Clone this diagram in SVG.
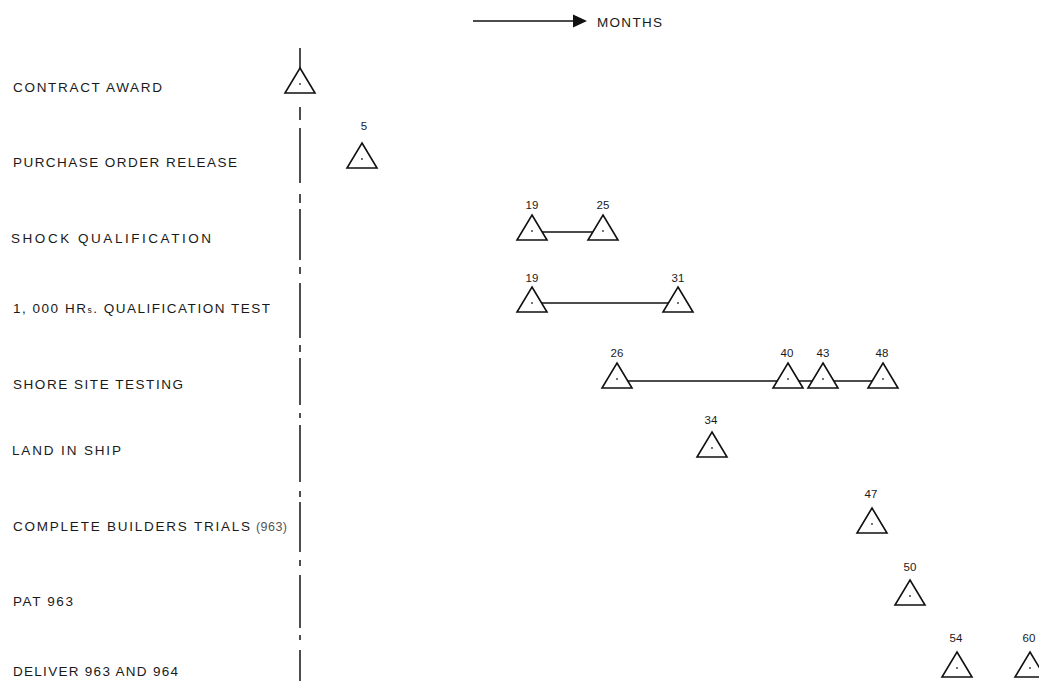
<svg xmlns="http://www.w3.org/2000/svg" xmlns:xlink="http://www.w3.org/1999/xlink" width="1039" height="681" viewBox="0 0 1039 681">
<style>
.lbl{font-family:"Liberation Sans","DejaVu Sans",sans-serif;font-size:13.5px;fill:#1a1a1a;}
.num{font-family:"Liberation Sans","DejaVu Sans",sans-serif;font-size:11.5px;fill:#1a1a1a;text-anchor:middle;}
.alt{font-family:"Liberation Sans","DejaVu Sans",sans-serif;font-size:12.5px;fill:#555;}
.tri{fill:none;stroke:#111;stroke-width:1.6;stroke-linejoin:miter;}
.conn{stroke:#111;stroke-width:1.5;fill:none;}
.axis{stroke:#222;stroke-width:1.6;fill:none;}
</style>
<defs>
<g id="tri">
<path class="tri" d="M0,0 L15,25 L-15,25 Z"/>
<circle cx="0" cy="16" r="0.9" fill="#333"/>
</g>
</defs>
<rect width="1039" height="681" fill="#fff"/>

<g id="legend">
<line x1="473" y1="21" x2="576" y2="21" class="conn"/>
<polygon points="573,14.5 587,21 573,27.5" fill="#111"/>
<text x="597" y="26.5" class="lbl" font-size="12.5" textLength="65">MONTHS</text>
</g>

<g id="axis">
<path class="axis" d="M300,48 V68 M300,107 V120 M300,128 V183 M300,194 V203 M300,209 V260 M300,267 V274 M300,283 V338 M300,345 V352 M300,358 V405 M300,413 V418 M300,425 V482 M300,491 V497 M300,502 V552 M300,560 V566 M300,575 V628 M300,635 V640 M300,650 V681"/>
</g>

<g id="labels">
<text x="13" y="92" class="lbl" textLength="149">CONTRACT AWARD</text>
<text x="13" y="167" class="lbl" textLength="224">PURCHASE ORDER RELEASE</text>
<text x="11" y="243" class="lbl" textLength="200">SHOCK QUALIFICATION</text>
<text x="13" y="313" class="lbl" textLength="257">1, 000 HR<tspan font-size="8.5">s</tspan>. QUALIFICATION TEST</text>
<text x="13" y="389" class="lbl" textLength="170">SHORE SITE TESTING</text>
<text x="12" y="455" class="lbl" textLength="109">LAND IN SHIP</text>
<text x="13" y="531" class="lbl" textLength="237">COMPLETE BUILDERS TRIALS</text>
<text x="256" y="531" class="alt" textLength="31">(963)</text>
<text x="13" y="606" class="lbl" textLength="60">PAT 963</text>
<text x="13" y="676" class="lbl" textLength="165">DELIVER 963 AND 964</text>
</g>

<g id="connectors">
<line x1="542" y1="232" x2="593" y2="232" class="conn"/>
<line x1="542" y1="303" x2="668" y2="303" class="conn"/>
<line x1="628" y1="381" x2="777" y2="381" class="conn"/>
<line x1="799" y1="381" x2="812" y2="381" class="conn"/>
<line x1="834" y1="381" x2="872" y2="381" class="conn"/>
</g>

<g id="m-contract"><use xlink:href="#tri" x="300" y="68"/></g>
<g id="m-po"><text x="364" y="130" class="num">5</text><use xlink:href="#tri" x="362" y="143"/></g>
<g id="m-shock19"><text x="532" y="209" class="num">19</text><use xlink:href="#tri" x="532" y="215"/></g>
<g id="m-shock25"><text x="603" y="209" class="num">25</text><use xlink:href="#tri" x="603" y="215"/></g>
<g id="m-qual19"><text x="532" y="282" class="num">19</text><use xlink:href="#tri" x="532" y="287"/></g>
<g id="m-qual31"><text x="678" y="282" class="num">31</text><use xlink:href="#tri" x="678" y="287"/></g>
<g id="m-shore26"><text x="617" y="357" class="num">26</text><use xlink:href="#tri" x="617" y="363"/></g>
<g id="m-shore40"><text x="787" y="357" class="num">40</text><use xlink:href="#tri" x="788" y="363"/></g>
<g id="m-shore43"><text x="823" y="357" class="num">43</text><use xlink:href="#tri" x="823" y="363"/></g>
<g id="m-shore48"><text x="882" y="357" class="num">48</text><use xlink:href="#tri" x="883" y="363"/></g>
<g id="m-land34"><text x="711" y="424" class="num">34</text><use xlink:href="#tri" x="712" y="432"/></g>
<g id="m-trials47"><text x="871" y="498" class="num">47</text><use xlink:href="#tri" x="872" y="508"/></g>
<g id="m-pat50"><text x="910" y="571" class="num">50</text><use xlink:href="#tri" x="910" y="580"/></g>
<g id="m-del54"><text x="956" y="642" class="num">54</text><use xlink:href="#tri" x="957" y="652"/></g>
<g id="m-del60"><text x="1029" y="642" class="num">60</text><use xlink:href="#tri" x="1030" y="652"/></g>
</svg>
